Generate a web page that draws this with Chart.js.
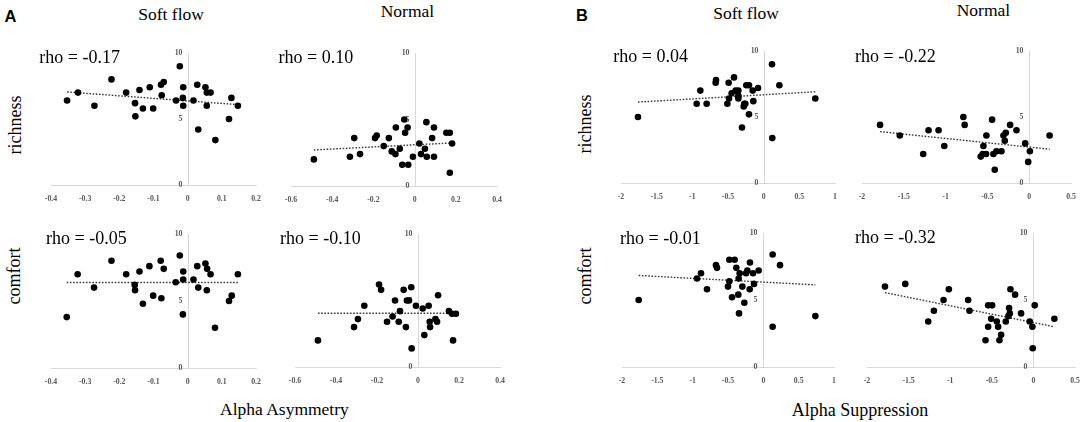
<!DOCTYPE html>
<html>
<head>
<meta charset="utf-8">
<script src="https://cdn.jsdelivr.net/npm/chart.js@4.4.1/dist/chart.umd.min.js"></script>
<style>
  html, body { margin:0; padding:0; background:#fff; }
  body { width:1084px; height:422px; position:relative; overflow:hidden; }
  canvas { position:absolute; }
  .t { position:absolute; font-family:"Liberation Serif","Times New Roman",serif; color:#000; white-space:nowrap; }
  .s18 { font-size:18px; line-height:18px; }
  .s175 { font-size:17.5px; line-height:17.5px; }
  .lab { position:absolute; font-family:"Liberation Sans",Arial,sans-serif; font-weight:bold; font-size:16.5px; line-height:16.5px; color:#000; }
  .rot { transform: translate(-50%,-50%) rotate(-90deg); }
</style>
</head>
<body>
<div class="lab" style="left:4.5px;top:8px;">A</div>
<div class="lab" style="left:576px;top:7px;">B</div>

<div class="t s175" style="left:138.3px;top:6.3px;">Soft flow</div>
<div class="t s175" style="left:380.7px;top:2.9px;">Normal</div>
<div class="t s175" style="left:713.3px;top:4.8px;">Soft flow</div>
<div class="t s175" style="left:956.7px;top:1.8px;">Normal</div>

<div class="t s18 rot" style="left:14.5px;top:125px;">richness</div>
<div class="t s18 rot" style="left:14px;top:276px;">comfort</div>
<div class="t s18 rot" style="left:584.5px;top:124px;">richness</div>
<div class="t s18 rot" style="left:584.5px;top:276px;">comfort</div>

<div class="t s175" style="left:220px;top:401.3px;">Alpha Asymmetry</div>
<div class="t s18" style="left:791.7px;top:401px;">Alpha Suppression</div>

<script>
// ---------------- DATA ----------------
const rhoLabels = ["rho = -0.17", "rho = 0.10", "rho = -0.05", "rho = -0.10",
                   "rho = 0.04", "rho = -0.22", "rho = -0.01", "rho = -0.32"];

// x-axis ranges: [min, max, step]
const xRangeAsymSoft = [-0.4, 0.2, 0.1];
const xRangeAsymNormal = [-0.6, 0.4, 0.2];
const xRangeSuppSoft = [-2, 1, 0.5];
const xRangeSuppNormal = [-2, 0.5, 0.5];
const yTicks = [0, 5, 10];

// A: Alpha Asymmetry, Soft flow, richness
const aSoftRichX = [-0.353,-0.321,-0.273,-0.223,-0.180,-0.154,-0.153,-0.141,-0.131,-0.111,-0.101,-0.078,-0.070,-0.076,-0.034,-0.023,-0.013,-0.014,-0.013,0.017,0.028,0.031,0.052,0.056,0.067,0.056,0.081,0.121,0.128,0.147];
const aSoftRichY = [6.4,7.0,6.0,8.0,7.0,6.2,5.2,7.2,5.8,7.4,5.8,7.6,7.8,6.8,6.4,9.0,7.4,6.6,6.0,6.4,7.6,4.2,7.4,7.0,7.0,6.0,3.4,5.0,6.6,6.0];
const aSoftRichTrendX = [-0.353, 0.147];
const aSoftRichTrendY = [7.05, 6.09];

// A: Normal, richness
const aNormRichX = [-0.489,-0.314,-0.293,-0.265,-0.192,-0.184,-0.150,-0.125,-0.111,-0.093,-0.091,-0.072,-0.060,-0.050,-0.046,-0.034,-0.031,-0.008,0.023,0.031,0.050,0.057,0.059,0.085,0.094,0.094,0.154,0.171,0.171,0.182];
const aNormRichY = [2.0,2.2,3.6,2.4,3.6,3.8,3.0,3.6,2.6,2.4,4.4,2.8,1.6,5.0,4.0,4.4,1.6,2.2,3.2,2.4,2.8,4.8,2.2,3.6,4.4,2.2,4.0,4.0,1.0,3.2];
const aNormRichTrendX = [-0.489, 0.182];
const aNormRichTrendY = [2.71, 3.24];

// A: Soft flow, comfort
const aSoftComfX = [-0.354,-0.322,-0.274,-0.223,-0.180,-0.155,-0.154,-0.141,-0.131,-0.112,-0.101,-0.079,-0.070,-0.077,-0.035,-0.023,-0.013,-0.013,-0.014,0.017,0.028,0.031,0.052,0.057,0.067,0.056,0.080,0.121,0.129,0.147];
const aSoftComfY = [3.8,7.0,6.0,8.0,7.0,6.2,5.8,7.2,4.8,7.6,5.4,8.0,7.4,5.2,6.4,8.4,7.2,6.6,4.0,6.6,7.6,6.0,7.8,7.4,7.0,5.8,3.0,5.0,5.4,7.0];
const aSoftComfTrendX = [-0.354, 0.147];
const aSoftComfTrendY = [6.38, 6.38];

// A: Normal, comfort
const aNormComfX = [-0.488,-0.312,-0.293,-0.262,-0.190,-0.180,-0.151,-0.124,-0.112,-0.094,-0.088,-0.070,-0.059,-0.054,-0.044,-0.033,-0.031,-0.010,0.023,0.031,0.052,0.057,0.059,0.085,0.093,0.098,0.151,0.166,0.185,0.171];
const aNormComfY = [2.0,3.0,3.6,4.6,6.2,5.8,3.4,3.8,5.0,3.4,4.2,5.8,3.0,5.0,5.0,6.0,1.4,4.6,4.4,2.4,4.6,3.4,3.0,3.6,3.4,5.4,4.2,4.0,4.0,2.0];
const aNormComfTrendX = [-0.488, 0.185];
const aNormComfTrendY = [4.04, 4.04];

// B: Alpha Suppression, Soft flow, richness
const bSoftRichX = [-1.762,-0.939,-0.888,-0.799,-0.673,-0.668,-0.509,-0.491,-0.486,-0.449,-0.416,-0.393,-0.355,-0.355,-0.355,-0.304,-0.280,-0.271,-0.257,-0.243,-0.206,-0.206,-0.154,-0.145,-0.079,0.117,0.121,0.220,0.724];
const bSoftRichY = [5.0,6.0,7.0,6.0,7.6,7.8,6.0,7.6,6.4,6.8,8.0,7.0,7.0,6.6,6.4,4.2,5.8,6.0,6.0,7.4,7.4,5.2,7.0,6.2,7.2,9.0,3.4,7.4,6.4];
const bSoftRichTrendX = [-1.762, 0.724];
const bSoftRichTrendY = [6.13, 6.91];

// B: Normal, richness
const bNormRichX = [-1.784,-1.548,-1.268,-1.204,-1.084,-1.016,-0.788,-0.772,-0.580,-0.556,-0.548,-0.516,-0.512,-0.444,-0.428,-0.412,-0.392,-0.332,-0.308,-0.292,-0.280,-0.228,-0.152,-0.048,-0.012,0.008,0.244];
const bNormRichY = [4.4,3.6,2.2,4.0,4.0,2.8,5.0,4.4,2.0,2.2,2.8,2.2,3.6,4.8,2.2,1.0,2.4,2.4,3.6,3.2,3.8,4.4,4.0,3.0,1.6,2.4,3.6];
const bNormRichTrendX = [-1.784, 0.244];
const bNormRichTrendY = [3.89, 2.56];

// B: Soft flow, comfort
const bSoftComfX = [-1.764,-0.939,-0.882,-0.797,-0.670,-0.656,-0.500,-0.481,-0.481,-0.443,-0.406,-0.382,-0.354,-0.349,-0.335,-0.344,-0.297,-0.269,-0.245,-0.226,-0.193,-0.189,-0.146,-0.132,-0.066,0.132,0.132,0.236,0.736];
const bSoftComfY = [5.0,6.6,7.0,5.8,7.6,7.4,6.0,6.4,8.0,5.2,8.0,7.4,5.4,6.6,7.0,4.0,6.0,4.8,7.0,7.2,5.8,7.8,7.0,6.2,7.2,8.4,3.0,7.6,3.8];
const bSoftComfTrendX = [-1.764, 0.736];
const bSoftComfTrendY = [6.83, 6.13];

// B: Normal, comfort
const bNormComfX = [-1.784,-1.540,-1.264,-1.196,-1.080,-1.016,-0.784,-0.768,-0.576,-0.544,-0.544,-0.496,-0.508,-0.440,-0.424,-0.408,-0.388,-0.332,-0.300,-0.292,-0.284,-0.276,-0.220,-0.148,-0.044,-0.012,-0.008,0.016,0.252];
const bNormComfY = [6.0,6.2,3.4,4.2,5.0,5.8,5.0,4.2,2.0,3.0,4.6,4.6,3.6,3.4,3.0,2.0,2.4,3.4,3.8,4.4,4.0,5.8,5.4,4.0,3.4,3.0,1.4,4.6,3.6];
const bNormComfTrendX = [-1.784, 0.252];
const bNormComfTrendY = [5.55, 3.0];

// ---------------- LAYOUT ----------------
// plot boxes in page pixels: [left, right, top(y=10), bottom(y=0)]
const panels = [
  { xs:aSoftRichX, ys:aSoftRichY, tx:aSoftRichTrendX, ty:aSoftRichTrendY, range:xRangeAsymSoft,  box:[51,256,53,185],  rho:rhoLabels[0], rhoPos:[39.3,63] },
  { xs:aNormRichX, ys:aNormRichY, tx:aNormRichTrendX, ty:aNormRichTrendY, range:xRangeAsymNormal, box:[291,497,53,186], rho:rhoLabels[1], rhoPos:[278.5,63] },
  { xs:aSoftComfX, ys:aSoftComfY, tx:aSoftComfTrendX, ty:aSoftComfTrendY, range:xRangeAsymSoft,  box:[51,256,234,368], rho:rhoLabels[2], rhoPos:[46,244.5] },
  { xs:aNormComfX, ys:aNormComfY, tx:aNormComfTrendX, ty:aNormComfTrendY, range:xRangeAsymNormal, box:[295,500,234,367], rho:rhoLabels[3], rhoPos:[280,244.5] },
  { xs:bSoftRichX, ys:bSoftRichY, tx:bSoftRichTrendX, ty:bSoftRichTrendY, range:xRangeSuppSoft,  box:[621,835,51,183], rho:rhoLabels[4], rhoPos:[613.3,61.8] },
  { xs:bNormRichX, ys:bNormRichY, tx:bNormRichTrendX, ty:bNormRichTrendY, range:xRangeSuppNormal, box:[862,1071,51,183], rho:rhoLabels[5], rhoPos:[855,62] },
  { xs:bSoftComfX, ys:bSoftComfY, tx:bSoftComfTrendX, ty:bSoftComfTrendY, range:xRangeSuppSoft,  box:[622,834,233,367], rho:rhoLabels[6], rhoPos:[620,243.8] },
  { xs:bNormComfX, ys:bNormComfY, tx:bNormComfTrendX, ty:bNormComfTrendY, range:xRangeSuppNormal, box:[867,1075,233,367], rho:rhoLabels[7], rhoPos:[855,243.5] }
];

const AXIS_GRAY = '#d9d9d9';
const TICK_COLOR = '#595959';
const TICK_FONT = { family: '"Liberation Serif","Times New Roman",serif', size: 7.8, weight: 'bold' };
const PL = 24, PR = 24, PT = 8, AXH = 24;

const yAxisAtZero = {
  id: 'yAxisAtZero',
  beforeDatasetsDraw(chart) {
    const xs = chart.scales.x, ys = chart.scales.y, ctx = chart.ctx;
    const x0 = Math.round(xs.getPixelForValue(0)) + 0.5;
    ctx.save();
    ctx.strokeStyle = AXIS_GRAY;
    ctx.lineWidth = 1;
    ctx.beginPath();
    ctx.moveTo(x0, ys.getPixelForValue(yTicks[yTicks.length - 1]));
    ctx.lineTo(x0, ys.getPixelForValue(yTicks[0]));
    ctx.stroke();
    ctx.fillStyle = TICK_COLOR;
    ctx.font = 'bold 7.8px "Liberation Serif","Times New Roman",serif';
    ctx.textAlign = 'right';
    ctx.textBaseline = 'middle';
    yTicks.forEach(v => ctx.fillText(String(v), x0 - 6, ys.getPixelForValue(v)));
    ctx.restore();
  }
};

function makePanel(p) {
  const [L, R, T, B] = p.box;
  const w = R - L + PL + PR, h = B - T + PT + AXH;
  const c = document.createElement('canvas');
  c.width = w; c.height = h;
  c.style.left = (L - PL) + 'px';
  c.style.top = (T - PT) + 'px';
  c.style.width = w + 'px';
  c.style.height = h + 'px';
  document.body.appendChild(c);

  const pts = p.xs.map((x, i) => ({ x: x, y: p.ys[i] }));
  const trend = p.tx.map((x, i) => ({ x: x, y: p.ty[i] }));

  new Chart(c, {
    type: 'scatter',
    data: {
      datasets: [
        { type: 'scatter', data: pts, backgroundColor: '#000', borderColor: '#000',
          pointRadius: 3.3, pointBorderWidth: 0, pointHoverRadius: 3.3, clip: false },
        { type: 'line', data: trend, borderColor: '#3a3a3a', borderWidth: 1.4,
          borderDash: [1.6, 1.6], pointRadius: 0, fill: false, clip: false }
      ]
    },
    options: {
      responsive: false,
      animation: false,
      events: [],
      layout: { padding: { left: PL, right: PR, top: PT, bottom: 0 } },
      plugins: { legend: { display: false }, tooltip: { enabled: false } },
      scales: {
        x: {
          type: 'linear', position: 'bottom',
          min: p.range[0], max: p.range[1],
          grid: { display: false },
          border: { display: true, color: AXIS_GRAY, width: 1 },
          ticks: {
            stepSize: p.range[2], autoSkip: false, maxRotation: 0,
            color: TICK_COLOR, font: TICK_FONT, padding: 1,
            callback: v => String(Math.round(v * 10) / 10)
          },
          afterFit(s) { s.height = AXH; }
        },
        y: {
          type: 'linear', min: yTicks[0], max: yTicks[yTicks.length - 1],
          display: false
        }
      }
    },
    plugins: [yAxisAtZero]
  });

  const r = document.createElement('div');
  r.className = 't s18';
  r.textContent = p.rho;
  r.style.left = p.rhoPos[0] + 'px';
  r.style.top = (p.rhoPos[1] - 15.1) + 'px';
  document.body.appendChild(r);
}

panels.forEach(makePanel);
</script>
</body>
</html>
